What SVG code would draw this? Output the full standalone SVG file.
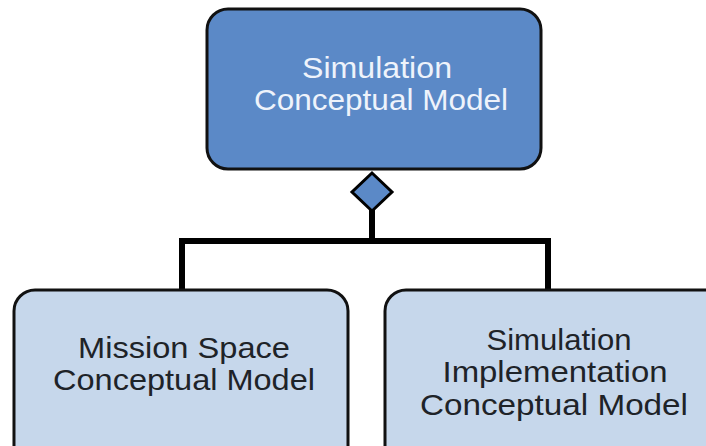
<svg xmlns="http://www.w3.org/2000/svg" width="706" height="446" viewBox="0 0 706 446">
<style>
.box{stroke:#111;stroke-width:3}
.top{fill:#5b89c7}
.sub{fill:#c6d7eb}
.conn{fill:none;stroke:#000;stroke-width:6}
text{font-family:"Liberation Sans",Arial,sans-serif;font-size:29px;text-anchor:middle}
.lt{fill:#eef3fb}
.dk{fill:#1e2328}
</style>
<rect width="706" height="446" fill="#fff"/>
<g id="connectors">
<path class="conn" d="M372 210 V241 M182 291 V241 H548 V291"/>
</g>
<g id="scm">
<rect class="box top" x="207" y="9" width="334" height="160" rx="21"/>
<text class="lt" x="377" y="78" textLength="150" lengthAdjust="spacingAndGlyphs">Simulation</text>
<text class="lt" x="381" y="110" textLength="254" lengthAdjust="spacingAndGlyphs">Conceptual Model</text>
</g>
<g id="diamond">
<polygon points="372,173 392,192 372,211 352,192" fill="#5b89c7" stroke="#000" stroke-width="3"/>
</g>
<g id="mscm">
<rect class="box sub" x="14" y="290" width="334" height="180" rx="21"/>
<text class="dk" x="184" y="358" textLength="212" lengthAdjust="spacingAndGlyphs">Mission Space</text>
<text class="dk" x="184" y="390" textLength="262" lengthAdjust="spacingAndGlyphs">Conceptual Model</text>
</g>
<g id="sicm">
<rect class="box sub" x="385" y="290" width="340" height="180" rx="21"/>
<text class="dk" x="559" y="350" textLength="145" lengthAdjust="spacingAndGlyphs">Simulation</text>
<text class="dk" x="555" y="382" textLength="225" lengthAdjust="spacingAndGlyphs">Implementation</text>
<text class="dk" x="554" y="415" textLength="268" lengthAdjust="spacingAndGlyphs">Conceptual Model</text>
</g>
</svg>
